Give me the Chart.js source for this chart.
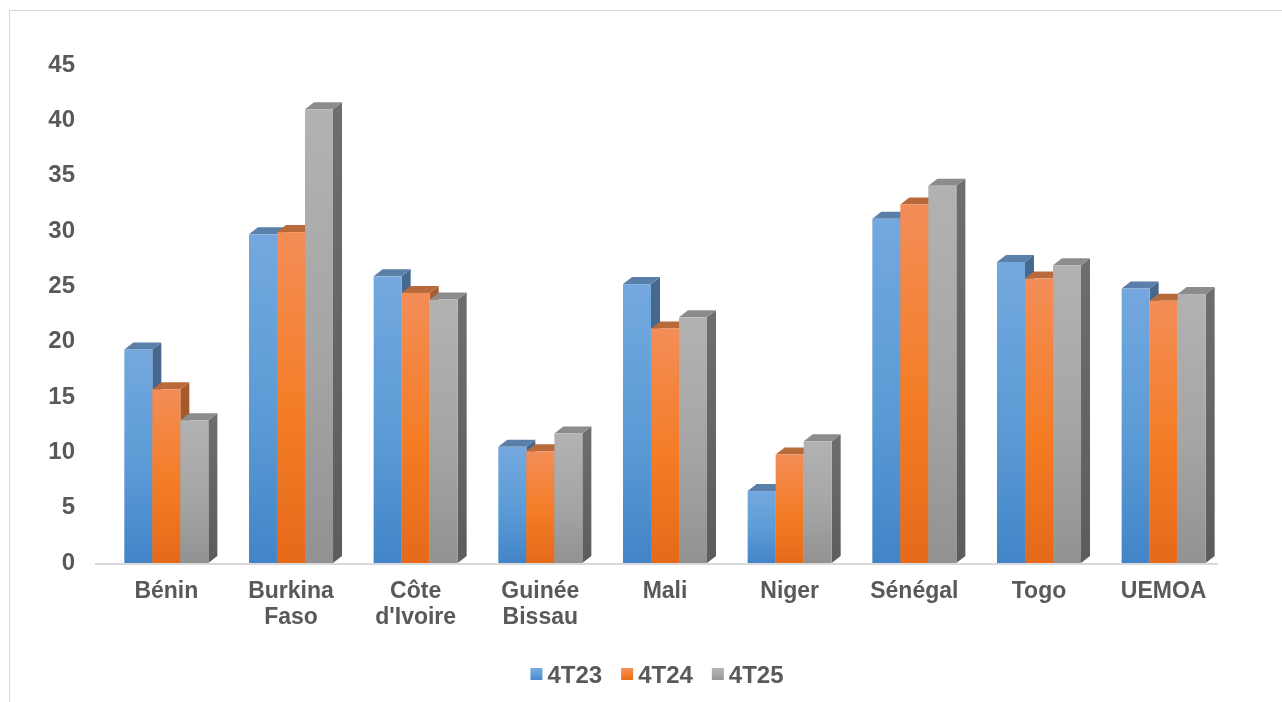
<!DOCTYPE html>
<html>
<head>
<meta charset="utf-8">
<script src="https://cdn.jsdelivr.net/npm/chart.js@4.4.1/dist/chart.umd.min.js"></script>
<style>
  html, body { margin: 0; padding: 0; background: #fff; }
  #wrap { position: relative; width: 1282px; height: 702px; overflow: hidden; }
  #frame { position: absolute; left: 9px; top: 10px; width: 1290px; height: 700px; border: 1px solid #d9d9d9; box-sizing: border-box; }
  canvas { position: absolute; left: 0; top: 0; }
</style>
</head>
<body>
<div id="wrap">
  <div id="frame"></div>
  <canvas id="chart" width="1282" height="702"></canvas>
</div>
<script>
// data
const categories = ["Bénin", ["Burkina", "Faso"], ["Côte", "d'Ivoire"], ["Guinée", "Bissau"], "Mali", "Niger", "Sénégal", "Togo", "UEMOA"];
const seriesNames = ["4T23", "4T24", "4T25"];
const values4T23 = [19.3, 29.7, 25.9, 10.5, 25.2, 6.5, 31.1, 27.2, 24.8];
const values4T24 = [15.7, 29.9, 24.4, 10.1, 21.2, 9.8, 32.4, 25.7, 23.7];
const values4T25 = [12.9, 41.0, 23.8, 11.7, 22.2, 11.0, 34.1, 26.9, 24.3];
const yTicks = [0, 5, 10, 15, 20, 25, 30, 35, 40, 45];

// colours for front (top/bottom of gradient), side and top faces
const palette = [
    { front: ["#74a8df", "#4384c8"], side: ["#47698f", "#3d5c80"], top: "#5a7fa8", mid: "#5b9bd5" },
    { front: ["#f38d57", "#e46a1a"], side: ["#a85c2d", "#964f22"], top: "#b96a3a", mid: "#f47c25" },
    { front: ["#b2b2b2", "#929292"], side: ["#6e6e6e", "#5c5c5c"], top: "#8c8c8c", mid: "#a5a5a5" }
];
const DX = 9, DY = 7;
const textColor = "#595959";
const fontFamily = "'Liberation Sans', Arial, sans-serif";

function frontGradient(ctx, c, top, bottom) {
    const g = ctx.createLinearGradient(0, top, 0, bottom);
    g.addColorStop(0, c.front[0]);
    g.addColorStop(0.55, c.mid);
    g.addColorStop(1, c.front[1]);
    return g;
}

const bars3d = {
    id: "bars3d",
    beforeDatasetsDraw(chart) {
        const { ctx, chartArea } = chart;
        ctx.save();
        ctx.strokeStyle = "#d9d9d9";
        ctx.lineWidth = 2;
        ctx.beginPath();
        ctx.moveTo(chartArea.left - 9, chartArea.bottom + 1);
        ctx.lineTo(chartArea.right - 8, chartArea.bottom + 1);
        ctx.stroke();
        ctx.restore();
    },
    afterDatasetsDraw(chart) {
        const ctx = chart.ctx;
        ctx.save();
        // sides and tops first, in series order
        chart.data.datasets.forEach((ds, i) => {
            const c = palette[i];
            chart.getDatasetMeta(i).data.forEach(bar => {
                const L = bar.x - bar.width / 2, R = bar.x + bar.width / 2;
                const y = bar.y, b = bar.base;
                const g = ctx.createLinearGradient(0, y - DY, 0, b);
                g.addColorStop(0, c.side[0]);
                g.addColorStop(1, c.side[1]);
                ctx.fillStyle = g;
                ctx.beginPath();
                ctx.moveTo(R, y);
                ctx.lineTo(R + DX, y - DY);
                ctx.lineTo(R + DX, b - DY);
                ctx.lineTo(R, b);
                ctx.closePath();
                ctx.fill();

                ctx.fillStyle = c.top;
                ctx.beginPath();
                ctx.moveTo(L, y);
                ctx.lineTo(L + DX, y - DY);
                ctx.lineTo(R + DX, y - DY);
                ctx.lineTo(R, y);
                ctx.closePath();
                ctx.fill();
            });
        });
        // front faces
        chart.data.datasets.forEach((ds, i) => {
            const c = palette[i];
            chart.getDatasetMeta(i).data.forEach(bar => {
                const L = bar.x - bar.width / 2;
                ctx.fillStyle = frontGradient(ctx, c, bar.y, bar.base);
                ctx.fillRect(L, bar.y, bar.width, bar.base - bar.y);
            });
        });
        ctx.restore();
    }
};

// legend drawn under the plot, centred on the 3D floor
const legend3d = {
    id: "legend3d",
    afterDraw(chart) {
        const { ctx, chartArea } = chart;
        const box = 12, gapText = 5, gapItem = 19, cy = 675;
        ctx.save();
        ctx.font = "bold 24px " + fontFamily;
        ctx.textBaseline = "middle";
        const widths = chart.data.datasets.map(ds => box + gapText + ctx.measureText(ds.label).width);
        const total = widths.reduce((a, b) => a + b, 0) + gapItem * (widths.length - 1);
        let x = (chartArea.left + chartArea.right) / 2 - 8 - total / 2;
        chart.data.datasets.forEach((ds, i) => {
            ctx.fillStyle = frontGradient(ctx, palette[i], cy - box / 2, cy + box / 2);
            ctx.fillRect(x, cy - box / 2 - 1, box, box);
            ctx.fillStyle = textColor;
            ctx.fillText(ds.label, x + box + gapText, cy + 1);
            x += widths[i] + gapItem;
        });
        ctx.restore();
    }
};

const seriesValues = [values4T23, values4T24, values4T25];

const chart = new Chart(document.getElementById("chart"), {
    type: "bar",
    data: {
        labels: categories,
        datasets: seriesNames.map((name, i) => ({
            label: name,
            data: seriesValues[i],
            backgroundColor: "rgba(0,0,0,0)",
            borderWidth: 0,
            categoryPercentage: 0.674,
            barPercentage: 1
        }))
    },
    options: {
        responsive: false,
        animation: false,
        layout: { padding: { top: 65, right: 56, bottom: 51, left: 0 } },
        plugins: {
            tooltip: { enabled: false },
            legend: { display: false }
        },
        scales: {
            x: {
                grid: { display: false, drawTicks: false },
                border: { display: false },
                ticks: {
                    color: textColor,
                    padding: 15,
                    maxRotation: 0,
                    autoSkip: false,
                    font: { family: fontFamily, size: 23, weight: "bold", lineHeight: 1.15 }
                },
                afterFit(scale) { scale.height = 88; }
            },
            y: {
                min: 0,
                max: 45,
                grid: { display: false, drawTicks: false },
                border: { display: false },
                afterBuildTicks(scale) { scale.ticks = yTicks.map(v => ({ value: v })); },
                ticks: {
                    color: textColor,
                    padding: 29,
                    font: { family: fontFamily, size: 24, weight: "bold" }
                },
                afterFit(scale) { scale.width = 104; }
            }
        }
    },
    plugins: [bars3d, legend3d]
});
</script>
</body>
</html>
